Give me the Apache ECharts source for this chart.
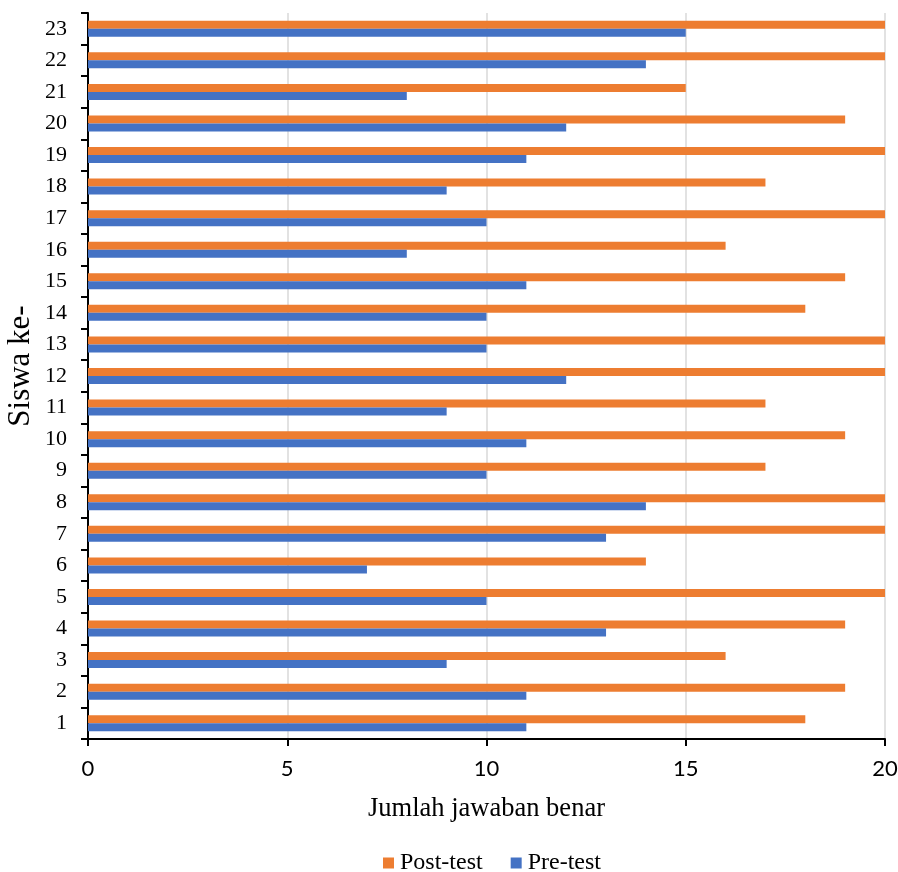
<!DOCTYPE html>
<html><head><meta charset="utf-8">
<script src="https://cdn.jsdelivr.net/npm/echarts@6/dist/echarts.min.js"></script>
<style>html,body{margin:0;padding:0;background:#fff}#c{width:898px;height:872px}</style>
</head><body><div id="c"></div>
<script>
const categories = ['1','2','3','4','5','6','7','8','9','10','11','12','13','14','15','16','17','18','19','20','21','22','23'];
const preTest  = [11,11,9,13,10,7,13,14,10,11,9,12,10,10,11,8,10,9,11,12,8,14,15];
const postTest = [18,19,16,19,20,14,20,20,17,19,17,20,20,18,19,16,20,17,20,19,15,20,20];
const xTicks = [0,5,10,15,20];
const FONT = '"Liberation Serif","Times New Roman",serif';
const SANS = 'Lato,"Liberation Sans",sans-serif';
const chart = echarts.init(document.getElementById('c'), null, {renderer:'canvas'});
chart.setOption({
  animation:false,
  textStyle:{fontFamily:FONT},
  grid:{left:88, right:13, top:13, bottom:133, containLabel:false, outerBoundsMode:'none'},
  legend:{
    data:['Post-test','Pre-test'], bottom:-3, left:383, padding:0,
    icon:'rect', itemWidth:11, itemHeight:11, itemGap:28,
    textStyle:{fontFamily:FONT, fontSize:24, color:'#000', padding:[0,0,0,1]}
  },
  xAxis:{
    type:'value', min:xTicks[0], max:xTicks[xTicks.length-1], interval:5,
    name:'Jumlah jawaban benar', nameLocation:'middle', nameGap:57, nameMoveOverlap:false,
    nameTextStyle:{fontFamily:FONT, fontSize:26.5, color:'#000'},
    axisLine:{show:true, lineStyle:{color:'#000', width:2}},
    axisTick:{show:true, length:7, lineStyle:{color:'#000', width:2}},
    axisLabel:{fontFamily:SANS, fontSize:22, color:'#000', margin:19},
    splitLine:{show:true, lineStyle:{color:'#d9d9d9', width:1.5}}
  },
  yAxis:{
    type:'category', data:categories,
    name:'Siswa ke-', nameLocation:'middle', nameGap:52, nameRotate:90, nameMoveOverlap:false,
    nameTextStyle:{fontFamily:FONT, fontSize:31, color:'#000', padding:[0,0,0,20]},
    axisLine:{show:true, lineStyle:{color:'#000', width:2}},
    axisTick:{show:true, length:7, lineStyle:{color:'#000', width:2}},
    axisLabel:{fontFamily:FONT, fontSize:22, color:'#000', margin:21},
    splitLine:{show:false}
  },
  series:[
    {name:'Post-test', type:'bar', data:postTest, barWidth:8, barGap:'0%', barCategoryGap:'50%',
     itemStyle:{color:'#ed7d31'}},
    {name:'Pre-test', type:'bar', data:preTest, barWidth:8, barGap:'0%',
     itemStyle:{color:'#4472c4'}}
  ]
});
</script></body></html>
